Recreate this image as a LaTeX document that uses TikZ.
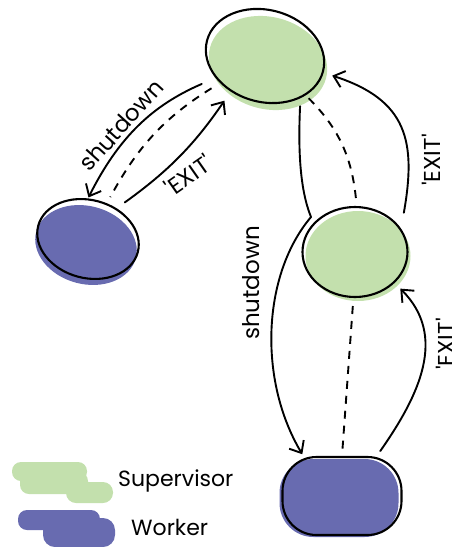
\documentclass[tikz,border=0pt]{standalone}
\usepackage{fontspec}
\setmainfont{Poppins}
\usetikzlibrary{arrows.meta, shapes.geometric}
\definecolor{supgreen}{RGB}{195,224,173}
\definecolor{workerblue}{RGB}{104,107,176}

\begin{document}
\begin{tikzpicture}[
  x=1pt, y=1pt,
  font=\fontsize{23}{27}\selectfont,
  msg/.style={-{Straight Barb[length=10pt, width=17pt]}, line width=1.9pt, line cap=round, line join=round},
  link/.style={line width=1.9pt, dash pattern=on 8pt off 7pt},
  supnode/.style={ellipse, draw=black, line width=2.1pt},
  worknode/.style={draw=black, line width=2.1pt},
  lbl/.style={inner sep=0pt},
  legend/.style={inner sep=0pt, anchor=west, font=\fontsize{22}{26}\selectfont}
]
  \useasboundingbox (0,0) rectangle (451,-547);

  % supervisors and workers
  \node[supnode, rotate=-15, minimum width=120pt, minimum height=92pt,
        preaction={fill=supgreen, transform canvas={shift={(3pt,-7pt)}}}] (sup1) at (265,-56) {};
  \node[worknode, ellipse, rotate=-15, minimum width=103pt, minimum height=78pt,
        preaction={fill=workerblue, transform canvas={shift={(-2pt,-6pt)}}}] (w1) at (88,-239) {};
  \node[supnode, minimum width=105pt, minimum height=90pt,
        preaction={fill=supgreen, transform canvas={shift={(3pt,-4pt)}}}] (sup2) at (355,-252) {};
  \node[worknode, rectangle, rounded corners=34pt, minimum width=119pt, minimum height=78pt,
        preaction={fill=workerblue, transform canvas={shift={(-3pt,-2pt)}}}] (w2) at (342,-496) {};

  \coordinate (kink) at (311,-217);

  % top supervisor <-> left worker
  \draw[msg, shorten <=15pt, shorten >=1pt] (sup1.219) to[bend right=20] (w1.105);
  \draw[link, shorten <=10pt, shorten >=7pt] (sup1.226) to[bend right=15] (w1.77);
  \draw[msg, shorten <=10pt, shorten >=11pt] (w1.62) to[bend right=10] (sup1.241);

  % top supervisor <-> lower supervisor
  \draw[msg, shorten <=8pt, shorten >=2pt] (sup1.325) .. controls (298,-150) and (300,-190) .. (kink)
    .. controls (262,-275) and (258,-380) .. (w2.134);
  \draw[link, shorten <=4pt, shorten >=4pt] (sup1.331) to[out=-45, in=95] (sup2.88);
  \draw[msg, shorten <=16pt, shorten >=9pt] (sup2.27) to[out=80, in=-18, looseness=1.3] (sup1.359);

  % lower supervisor <-> bottom worker
  \draw[link, shorten <=8pt, shorten >=4pt] (sup2.268) -- (w2.north);
  \draw[msg, shorten <=6pt, shorten >=8pt] (w2.49) to[out=55, in=-45, looseness=1.1] (sup2.322);

  % labels
  \node[lbl, rotate=48] (lshut1) at (121,-125) {shutdown};
  \node[lbl, rotate=35] (lexit1) at (188,-175) {\textquotesingle EXIT\textquotesingle};
  \node[lbl, rotate=90] (lshut2) at (251,-283) {shutdown};
  \node[lbl, rotate=90] (lexit2) at (431,-160) {\textquotesingle EXIT\textquotesingle};
  \node[lbl, rotate=90] (lexit3) at (445,-344) {\textquotesingle EXIT\textquotesingle};

  % legend
  \fill[supgreen, rounded corners=9pt] (12,-462) rectangle (87,-481);
  \fill[supgreen, rounded corners=9pt] (20,-472) rectangle (88,-494);
  \fill[supgreen, rounded corners=10pt] (66,-482) rectangle (113,-503);
  \fill[workerblue, rounded corners=9pt] (18,-510) rectangle (100,-530);
  \fill[workerblue, rounded corners=12pt] (43,-518) rectangle (115,-547);
  \node[legend] (lsup) at (118,-481) {Supervisor};
  \node[legend] (lwork) at (131,-527) {Worker};
\end{tikzpicture}
\end{document}
